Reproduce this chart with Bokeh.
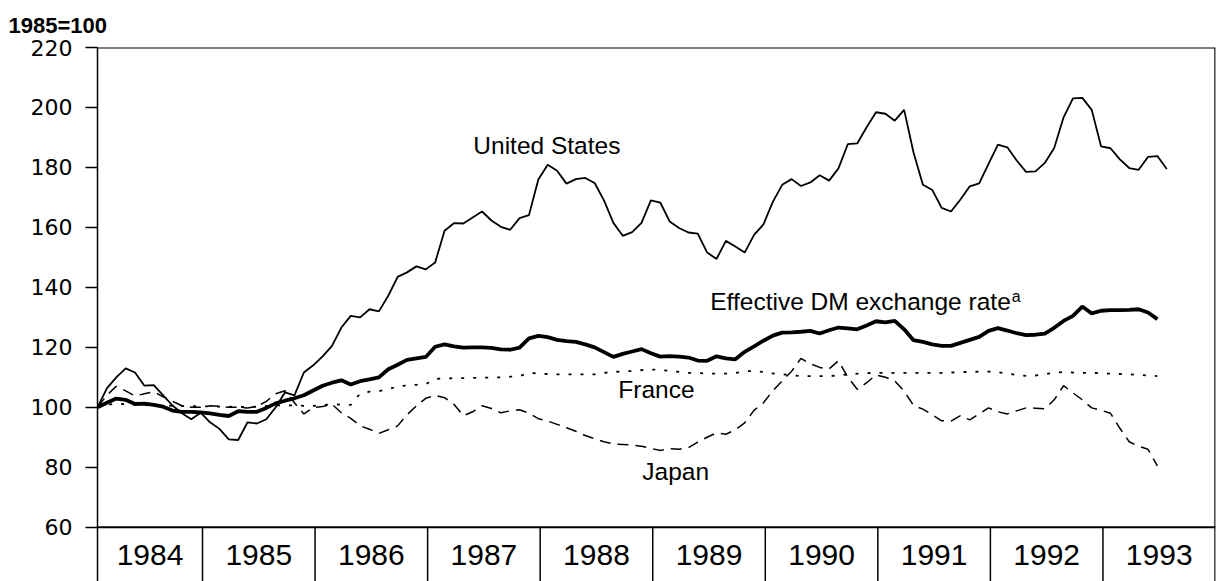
from bokeh.plotting import figure
from bokeh.models import Range1d, FixedTicker, Span, Label
from bokeh.embed import file_html
from bokeh.resources import INLINE

# ---- data (monthly, 1985=100) ----
us = [100, 106.3, 110, 113, 111.6, 107.2, 107.4, 104, 100.6, 98, 96, 98.2,
      95, 92.8, 89.3, 89.1, 95, 94.6, 96, 100, 105, 104, 111.6, 114,
      117, 120.5, 126.6, 130.5, 130, 132.7, 132, 137.2, 143.5, 145, 147, 146,
      148.3, 158.9, 161.4, 161.3, 163.3, 165.3, 162.3, 160.2, 159.2, 163.1, 164.1, 176,
      180.9, 178.9, 174.6, 176.1, 176.5, 174.8, 169, 161.5, 157.2, 158.4, 161.5, 169,
      168.3, 162, 159.8, 158.3, 157.9, 151.6, 149.5, 155.5, 153.6, 151.6, 157.5, 161,
      168.5, 174.2, 176.1, 173.8, 175, 177.4, 175.6, 179.7, 187.8, 188, 193.4, 198.4,
      197.9, 195.6, 199.2, 185, 174.2, 172.5, 166.5, 165.3, 169.3, 173.7, 174.7, 181.2,
      187.6, 186.7, 182.3, 178.5, 178.7, 181.5, 186.5, 196.7, 203, 203.2, 199.2, 187,
      186.4, 182.7, 179.8, 179.2, 183.5, 183.8, 179.5]

dm = [100, 101.5, 102.9, 102.5, 101.1, 101.2, 100.8, 100.2, 98.9, 98.5, 98.5, 98.3,
      98.0, 97.5, 97.1, 98.7, 98.5, 98.5, 99.8, 101.3, 102.2, 103.0, 104.0, 105.6,
      107.2, 108.2, 109.0, 107.6, 108.7, 109.3, 110.0, 112.7, 114.2, 115.8, 116.3, 116.8,
      120.2, 121.0, 120.3, 119.9, 120.0, 120.0, 119.8, 119.3, 119.2, 119.9, 123.0, 123.8,
      123.4, 122.5, 122.1, 121.8, 121.0, 120.0, 118.4, 116.8, 117.8, 118.6, 119.4, 118.0,
      116.9, 117.1, 116.9, 116.6, 115.6, 115.5, 117.0, 116.3, 116.0, 118.5, 120.3, 122.2,
      123.9, 124.9, 125.0, 125.2, 125.5, 124.6, 125.7, 126.6, 126.3, 126.0, 127.3, 128.7,
      128.3, 128.8, 126.0, 122.4, 121.8, 121.0, 120.5, 120.5, 121.5, 122.5, 123.5, 125.5,
      126.4, 125.6, 124.7, 124.1, 124.2, 124.6, 126.5, 128.8, 130.5, 133.6, 131.3, 132.2,
      132.4, 132.4, 132.5, 132.7, 131.6, 129.4]

france = [100, 100.8, 101.2, 101, 100.8, 100.7, 100.6, 100.6, 100.5, 100.4, 100.4, 100.3,
          100.3, 100.2, 100.2, 100.1, 100.1, 100.2, 100.4, 100.6, 100.7, 100.6, 100.5, 100.5,
          100.7, 101, 100.9, 100.8, 104.6, 105.2, 105.4, 106.0, 107.0, 107.3, 107.5, 107.7,
          109.5, 109.6, 109.7, 109.7, 109.8, 109.9, 109.9, 110.0, 110.2, 110.4, 111.5, 111.3,
          111.1, 111.0, 111.0, 111.0, 111.0, 111.0, 111.5, 111.8, 112.0, 112.1, 112.4, 112.6,
          112.5, 112.1, 111.8, 111.5, 111.4, 111.3, 111.2, 111.2, 111.4, 112.0, 112.1, 111.8,
          111.3, 111.0, 110.7, 110.4, 110.4, 110.4, 110.4, 110.6, 111.0, 111.2, 111.4, 111.5,
          111.5, 111.5, 111.5, 111.5, 111.5, 111.5, 111.5, 111.6, 111.7, 111.8, 111.9, 111.9,
          111.7, 111.2, 110.8, 110.5, 110.6, 111.0, 111.5, 111.8, 111.6, 111.5, 111.5, 111.3,
          111.2, 111.1, 111.0, 110.8, 110.6, 110.4]

japan = [100, 104, 107, 105.5, 103.8, 104.5, 105.2, 103.5, 102, 100.5, 100, 100,
         100.5, 100.3, 100, 100, 99.8, 100.3, 102, 104.5, 105.5, 101.5, 97.8, 99.9,
         100.3, 101, 98.2, 96.3, 93.8, 92.7, 91.3, 92.5, 93.8, 97.5, 100.5, 103,
         104, 103.2, 101, 97.2, 98.5, 100.5, 99.6, 98.2, 98.8, 99.2, 98, 96.2,
         95.4, 94.3, 93.2, 92, 90.6, 89.5, 88.5, 87.8, 87.6, 87.4, 87, 86.3,
         85.6, 86.2, 86, 86.5, 88.4, 90, 91.5, 91, 92.5, 94.8, 99, 101.5,
         105.5, 108.8, 112, 116.3, 114.5, 113.3, 112.8, 115.5, 110, 106, 108.2, 110.8,
         110, 108.8, 105.4, 100.6, 99.4, 97.5, 95.5, 95.4, 97.2, 95.8, 97.8, 99.8,
         98.5, 97.8, 98.8, 99.8, 99.7, 99.5, 102.5, 107.2, 104.8, 102.5, 99.8, 99.0,
         98.0, 93, 88.5, 87.0, 86.0, 80.5]

years = [1984, 1985, 1986, 1987, 1988, 1989, 1990, 1991, 1992, 1993]
y_ticks = [60, 80, 100, 120, 140, 160, 180, 200, 220]
labels = ["United States", "Effective DM exchange rate", "France", "Japan"]

# ---- layout ----
X0 = 1984.067   # first observation (Jan 1984) sits on the left frame edge
X1 = 1994.0
Y_LOW = 41.9    # bottom of the year band
Y_BASE = 60
FONT = "Liberation Sans"

def mx(n):
    return [X0 + i / 12 for i in range(n)]

p = figure(width=1222, height=581,
           x_range=Range1d(X0, X1), y_range=Range1d(Y_LOW, 220),
           output_backend="svg", toolbar_location=None,
           x_axis_location=None,
           min_border_left=97, min_border_right=7,
           min_border_top=47, min_border_bottom=0)
p.outline_line_color = None
p.background_fill_color = "white"
p.border_fill_color = "white"
p.xgrid.visible = False
p.ygrid.visible = False

# unit label as a left-shifted title
p.title.text = "1985=100"
p.title.align = "left"
p.title.offset = -89
p.title.standoff = 19
p.title.text_font = FONT
p.title.text_font_size = "22px"
p.title.text_font_style = "bold"
p.title.text_color = "black"

ax = p.yaxis[0]
ax.ticker = FixedTicker(ticks=y_ticks)
ax.minor_tick_line_color = None
ax.major_tick_in = 0
ax.major_tick_out = 12
ax.major_tick_line_width = 1.5
ax.axis_line_width = 1.5
ax.axis_line_color = "black"
ax.major_tick_line_color = "black"
ax.major_label_standoff = 13
ax.major_label_text_font = "DejaVu Sans"
ax.major_label_text_font_size = "22px"
ax.major_label_text_color = "black"

# frame borders
p.add_layout(Span(location=220, dimension="width", line_color="black", line_width=1.8))
p.add_layout(Span(location=Y_BASE, dimension="width", line_color="black", line_width=2))
p.add_layout(Span(location=X1 - 0.004, dimension="height", line_color="black", line_width=1.5))

# year band separators and labels
bounds = years[1:]
p.segment(x0=bounds, y0=[Y_LOW] * len(bounds), x1=bounds, y1=[Y_BASE] * len(bounds),
          line_color="black", line_width=1.5)
centers = [(max(y, X0) + y + 1) / 2 for y in years]
p.text(x=centers, y=[50.8] * len(years), text=[str(y) for y in years],
       text_align="center", text_baseline="middle",
       text_font={"value": FONT},
       text_font_size="30px", text_color="black")

# series
p.line(mx(len(france)), france, line_color="black", line_width=1.8, line_dash="3 9")
p.line(mx(len(japan)), japan, line_color="black", line_width=1.5, line_dash="11 7")
p.line(mx(len(us)), us, line_color="black", line_width=1.8)
p.line(mx(len(dm)), dm, line_color="black", line_width=3.8)

# series labels
lab_pos = [(1987.406, 187.3), (1989.511, 135.3), (1988.694, 105.9), (1988.907, 78.6)]
for t, (lx, ly) in zip(labels, lab_pos):
    p.add_layout(Label(x=lx, y=ly, text=t, text_font=FONT, text_font_size="24.5px",
                       text_color="black", text_baseline="alphabetic"))
p.add_layout(Label(x=1992.19, y=136.8, text="a", text_font=FONT,
                   text_font_size="16px", text_color="black", text_baseline="alphabetic"))

open("out.html", "w").write(file_html(p, INLINE))
